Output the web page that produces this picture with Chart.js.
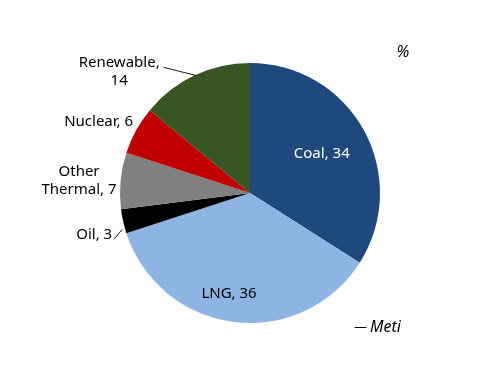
<!DOCTYPE html>
<html>
<head>
<meta charset="utf-8">
<script src="https://cdn.jsdelivr.net/npm/chart.js@4"></script>
<style>
  html, body { margin: 0; padding: 0; background: #fff; }
  #wrap { position: relative; width: 500px; height: 386px; }
</style>
</head>
<body>
<div id="wrap"><canvas id="pie" width="500" height="386"></canvas></div>
<script>
// data
var categories = ['Coal', 'LNG', 'Oil', 'Other Thermal', 'Nuclear', 'Renewable'];
var values = [34, 36, 3, 7, 6, 14];
var sliceColors = ['#1F497D', '#8DB4E2', '#000000', '#808080', '#C00000', '#375623'];

// label layout per slice: lines of text, where to put it
var labelLines = [
    ['Coal, 34'],
    ['LNG, 36'],
    ['Oil, 3'],
    ['Other', 'Thermal, 7'],
    ['Nuclear, 6'],
    ['Renewable,', '14']
];
// dx/dy: text anchor (right edge, vertical middle) relative to the slice's outer mid point
// lead: leader line from the slice edge (l0) to the text (l1)
var labelStyle = [
    {inside: true, k: 0.63, color: '#ffffff'},
    {inside: true, k: 0.79, da: 0.08, color: '#000000'},
    {inside: false, dx: -11, dy: 13, lead: [[-1, 8], [-9, 18]], color: '#000000'},
    {inside: false, dx: -4, dy: 0, color: '#000000'},
    {inside: false, dx: -3, dy: -9, color: '#000000'},
    {inside: false, dx: -35, dy: -4, lead: [[1, 0], [-31, -8]], color: '#000000'}
];

var FONT = '"Noto Sans", sans-serif';

var labelPlugin = {
    id: 'sliceLabels',
    afterDatasetsDraw: function(chart) {
        var ctx = chart.ctx;
        var meta = chart.getDatasetMeta(0);
        ctx.save();
        ctx.font = '15px ' + FONT;
        ctx.textBaseline = 'middle';
        var lh = 18;
        meta.data.forEach(function(arc, i) {
            var st = labelStyle[i];
            var mid = (arc.startAngle + arc.endAngle) / 2 + (st.da || 0);
            var r = arc.outerRadius;
            var lines = labelLines[i];
            ctx.fillStyle = st.color;
            if (st.inside) {
                var x = arc.x + Math.cos(mid) * r * st.k;
                var y = arc.y + Math.sin(mid) * r * st.k;
                ctx.textAlign = 'center';
                lines.forEach(function(t, j) {
                    ctx.fillText(t, x, y + (j - (lines.length - 1) / 2) * lh);
                });
                return;
            }
            var ox = arc.x + Math.cos(mid) * r;
            var oy = arc.y + Math.sin(mid) * r;
            if (st.lead) {
                ctx.strokeStyle = '#000000';
                ctx.lineWidth = 0.9;
                ctx.beginPath();
                ctx.moveTo(ox + st.lead[0][0], oy + st.lead[0][1]);
                ctx.lineTo(ox + st.lead[1][0], oy + st.lead[1][1]);
                ctx.stroke();
            }
            var tx = ox + st.dx;
            var ty = oy + st.dy;
            var w = 0;
            lines.forEach(function(t) { w = Math.max(w, ctx.measureText(t).width); });
            ctx.textAlign = 'center';
            var top = ty - (lines.length - 1) / 2 * lh;
            if (lines.length > 1 && st.lead) top = ty - 9; // first line sits at the leader
            lines.forEach(function(t, j) {
                ctx.fillText(t, tx - w / 2, top + j * lh);
            });
        });
        // unit and source notes
        ctx.font = 'italic 16px ' + FONT;
        ctx.textAlign = 'center';
        ctx.fillText('%', 403, 52);
        ctx.textAlign = 'left';
        ctx.fillText('Meti', 370, 327);
        ctx.font = '13px ' + FONT;
        ctx.fillText('\u2014', 354, 327);
        ctx.restore();
    }
};

var ctx = document.getElementById('pie').getContext('2d');
var chart = new Chart(ctx, {
    type: 'pie',
    data: {
        labels: categories,
        datasets: [{
            data: values,
            backgroundColor: sliceColors,
            borderWidth: 0
        }]
    },
    options: {
        responsive: false,
        animation: false,
        layout: {padding: {left: 120, right: 120, top: 63, bottom: 63}},
        plugins: {
            legend: {display: false},
            tooltip: {enabled: false}
        }
    },
    plugins: [labelPlugin]
});
</script>
</body>
</html>
